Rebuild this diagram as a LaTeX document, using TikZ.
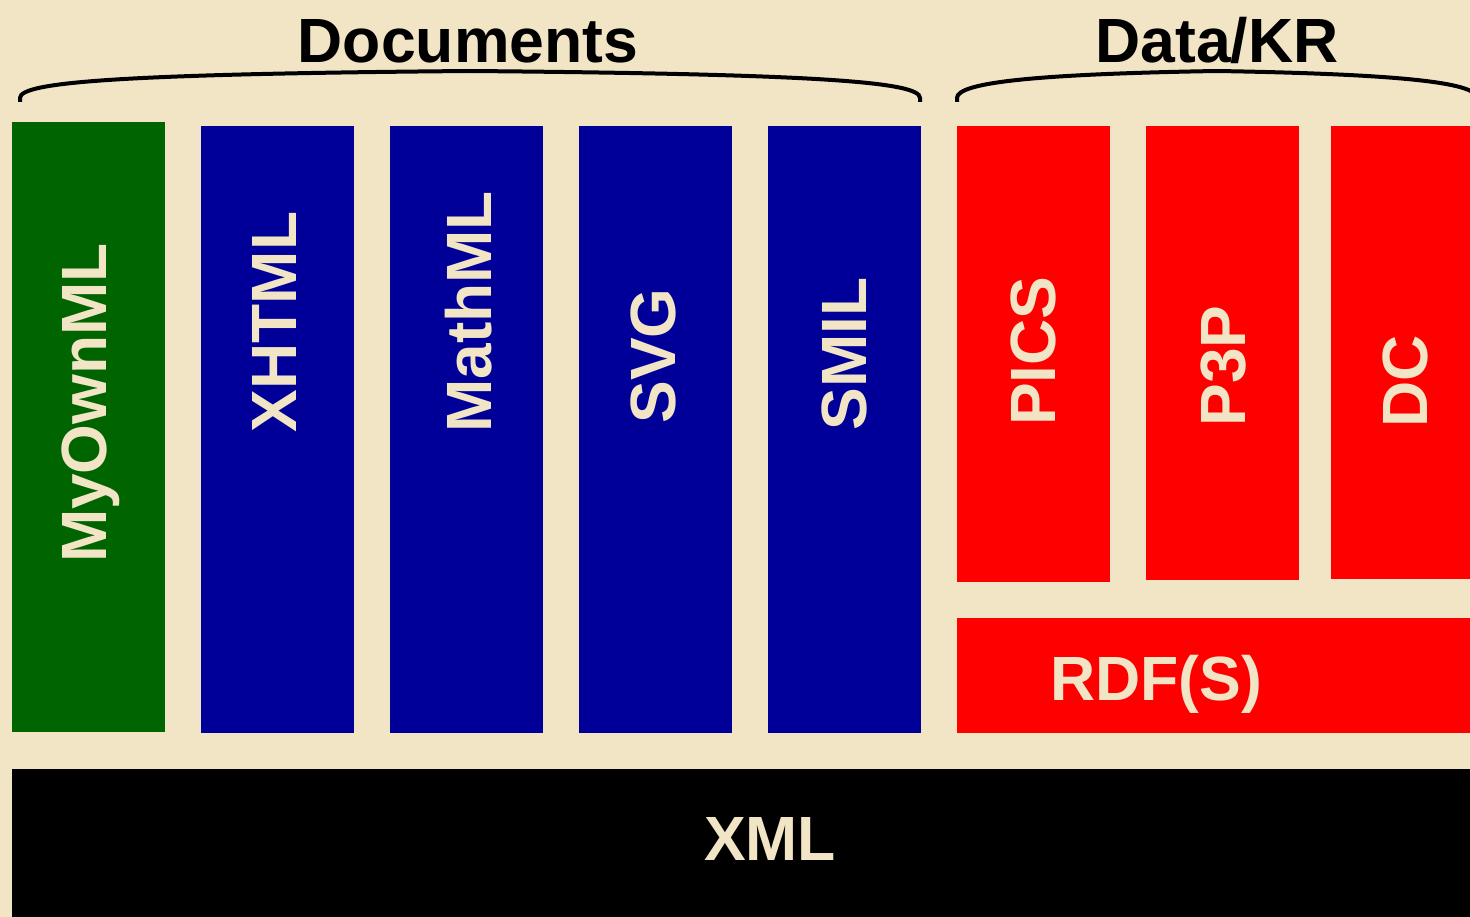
\documentclass[tikz,border=0pt]{standalone}
\usepackage{fontspec}
\setmainfont{Liberation Sans}
\definecolor{cream}{HTML}{F2E5C6}
\definecolor{leafgreen}{HTML}{006400}
\definecolor{navy}{HTML}{000099}
\definecolor{brightred}{HTML}{FF0000}
\begin{document}
\begin{tikzpicture}[x=1pt,y=-1pt,
  block/.style={inner sep=0pt, outer sep=0pt, anchor=north west},
  lbl/.style={inner sep=0pt, text=cream, font=\bfseries\fontsize{62.5}{62.5}\selectfont, text height=45pt, text depth=0pt},
  vlbl/.style={inner sep=0pt, text=cream, font=\bfseries\fontsize{64}{64}\selectfont, text height=46pt, text depth=0pt, rotate=90},
  head/.style={inner sep=0pt, text=black, font=\bfseries\fontsize{62.5}{62.5}\selectfont, text height=45pt, text depth=0pt},
  brace/.style={line width=4pt, draw=black}]
\fill[cream] (0,0) rectangle (1470,917);
\useasboundingbox (0,0) rectangle (1470,917);
\begin{scope}
\clip (0,0) rectangle (1470,917);
% document vocabularies
\node[block, fill=leafgreen, minimum width=153pt, minimum height=610pt] (own) at (12,122) {};
\node[block, fill=navy, minimum width=153pt, minimum height=607pt] (xhtml) at (201,126) {};
\node[block, fill=navy, minimum width=153pt, minimum height=607pt] (mathml) at (390,126) {};
\node[block, fill=navy, minimum width=153pt, minimum height=607pt] (svg) at (579,126) {};
\node[block, fill=navy, minimum width=153pt, minimum height=607pt] (smil) at (768,126) {};
% data / knowledge representation
\node[block, fill=brightred, minimum width=153pt, minimum height=456pt] (pics) at (957,126) {};
\node[block, fill=brightred, minimum width=153pt, minimum height=454pt] (p3p) at (1146,126) {};
\node[block, fill=brightred, minimum width=150pt, minimum height=453pt] (dc) at (1331,126) {};
\node[block, fill=brightred, minimum width=520pt, minimum height=115pt] (rdf) at (957,618) {};
% common base
\node[block, fill=black, minimum width=1470pt, minimum height=160pt] (xml) at (12,769) {};

% labels
\node[vlbl] (lown) at (83,403) {MyOwnML};
\node[vlbl] (lxhtml) at (273,322) {XHTML};
\node[vlbl] (lmathml) at (468,312) {MathML};
\node[vlbl] (lsvg) at (652,356) {SVG};
\node[vlbl] (lsmil) at (843,354) {SMIL};
\node[vlbl] (lpics) at (1032,351) {PICS};
\node[vlbl] (lp3p) at (1222,366) {P3P};
\node[vlbl] (ldc) at (1404,381) {DC};
\node[lbl] (lrdf) at (1156,678) {RDF(S)};
\node[lbl] (lxml) at (770,838) {XML};

% group headings and braces
\node[head] (hdoc) at (468,40) {Documents};
\node[head] (hdata) at (1217,40) {Data/KR};
\coordinate (dl) at (20,102);
\coordinate (dr) at (920,102);
\coordinate (kl) at (957,102);
\coordinate (kr) at (1477,102);
\draw[brace] (dl) -- ++(0,-4) .. controls (20,82) and (120,74) .. (470,71)
  .. controls (820,74) and (920,82) .. (920,98) -- (dr);
\draw[brace] (kl) -- ++(0,-4) .. controls (957,82) and (1040,74) .. (1217,71)
  .. controls (1394,74) and (1477,82) .. (1477,98) -- (kr);
\end{scope}
\end{tikzpicture}
\end{document}
